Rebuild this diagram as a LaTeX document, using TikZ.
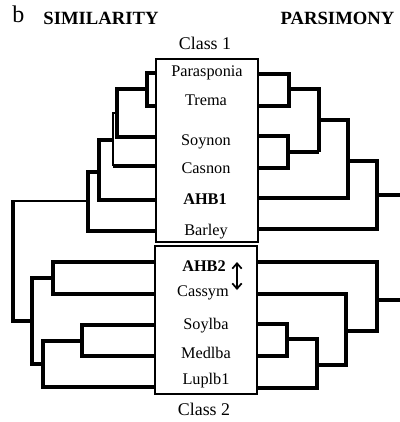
\documentclass[tikz,border=0pt]{standalone}
\usepackage{fontspec}
\setmainfont{Liberation Serif}
\usetikzlibrary{arrows.meta}
\begin{document}
\begin{tikzpicture}[x=0.75pt,y=-0.75pt,
  branch/.style={line width=2.4pt,line join=miter,line cap=butt},
  thinbranch/.style={line width=1.7pt,line join=miter,line cap=butt},
  classbox/.style={draw,line width=0.9pt},
  leaf/.style={font=\fontsize{12.2}{14}\selectfont,inner sep=0pt},
  heading/.style={font=\fontsize{14}{16}\selectfont\bfseries,inner sep=0pt},
  classlabel/.style={font=\fontsize{13.4}{15}\selectfont,inner sep=0pt}]
\useasboundingbox (0,0) rectangle (400,422);

% panel letter and tree headings
\node[font=\fontsize{18}{20}\selectfont,inner sep=0pt] (panel) at (18.5,14) {b};
\node[heading] (sim) at (101,18) {SIMILARITY};
\node[heading] (pars) at (337.5,18) {PARSIMONY};

% class boxes
\draw[classbox] (156,59) rectangle (258,242);
\draw[classbox] (155,246) rectangle (257,394);
\node[classlabel] (c1) at (205,43) {Class 1};
\node[classlabel] (c2) at (204,409) {Class 2};

% leaf labels
\node[leaf] (l1) at (207,73) {Parasponia};
\node[leaf] (l2) at (206,100) {Trema};
\node[leaf] (l3) at (206,142) {Soynon};
\node[leaf] (l4) at (206,168) {Casnon};
\node[leaf,font=\fontsize{12.2}{14}\selectfont\bfseries] (l5) at (205,199) {AHB1};
\node[leaf] (l6) at (206,232) {Barley};
\node[leaf,font=\fontsize{12.2}{14}\selectfont\bfseries] (l7) at (204,266) {AHB2};
\node[leaf] (l8) at (203,293) {Cassym};
\node[leaf] (l9) at (206,326) {Soylba};
\node[leaf] (l10) at (206,353) {Medlba};
\node[leaf] (l11) at (206,381) {Luplb1};

% double-headed arrow beside AHB2 / Cassym
\coordinate (atop) at (237,262);
\coordinate (abot) at (237,290);
\draw[line width=1.3pt,{Straight Barb[length=4pt,width=7pt]}-{Straight Barb[length=4pt,width=7pt]}] (atop) -- (abot);

% similarity tree (left)
\draw[branch] (156,73) -- (147,73) -- (147,106) -- (156,106);
\draw[branch] (147,89) -- (117,89) -- (117,137) -- (156,137);
\draw[thinbranch] (117,113) -- (113,113) -- (113,166);
\draw[branch] (113,166) -- (156,166);
\draw[branch] (113,140) -- (99,140) -- (99,200) -- (156,200);
\draw[branch] (99,172) -- (88,172) -- (88,231) -- (156,231);
\draw[thinbranch] (88,201) -- (13,201);
\draw[branch] (13,200) -- (13,321) -- (32,321);
\draw[branch] (156,262) -- (53,262) -- (53,294) -- (156,294);
\draw[branch] (53,278) -- (32,278) -- (32,364) -- (43,364);
\draw[branch] (156,325) -- (82,325) -- (82,356) -- (156,356);
\draw[branch] (82,341) -- (43,341) -- (43,387) -- (156,387);

% parsimony tree (right)
\draw[branch] (258,74) -- (289,74) -- (289,106) -- (258,106);
\draw[branch] (289,89) -- (319,89) -- (319,152);
\draw[branch] (258,136) -- (288,136) -- (288,168) -- (258,168);
\draw[branch] (288,152) -- (319,152);
\draw[branch] (319,120) -- (348,120) -- (348,198) -- (258,198);
\draw[branch] (348,161) -- (377,161) -- (377,229) -- (258,229);
\draw[branch] (377,195) -- (400,195);
\draw[branch] (258,262) -- (377,262) -- (377,331) -- (346,331);
\draw[branch] (377,300) -- (400,300);
\draw[branch] (258,294) -- (346,294) -- (346,365) -- (317,365);
\draw[branch] (258,324) -- (287,324) -- (287,356) -- (258,356);
\draw[branch] (287,339) -- (317,339) -- (317,388) -- (258,388);
\end{tikzpicture}
\end{document}
